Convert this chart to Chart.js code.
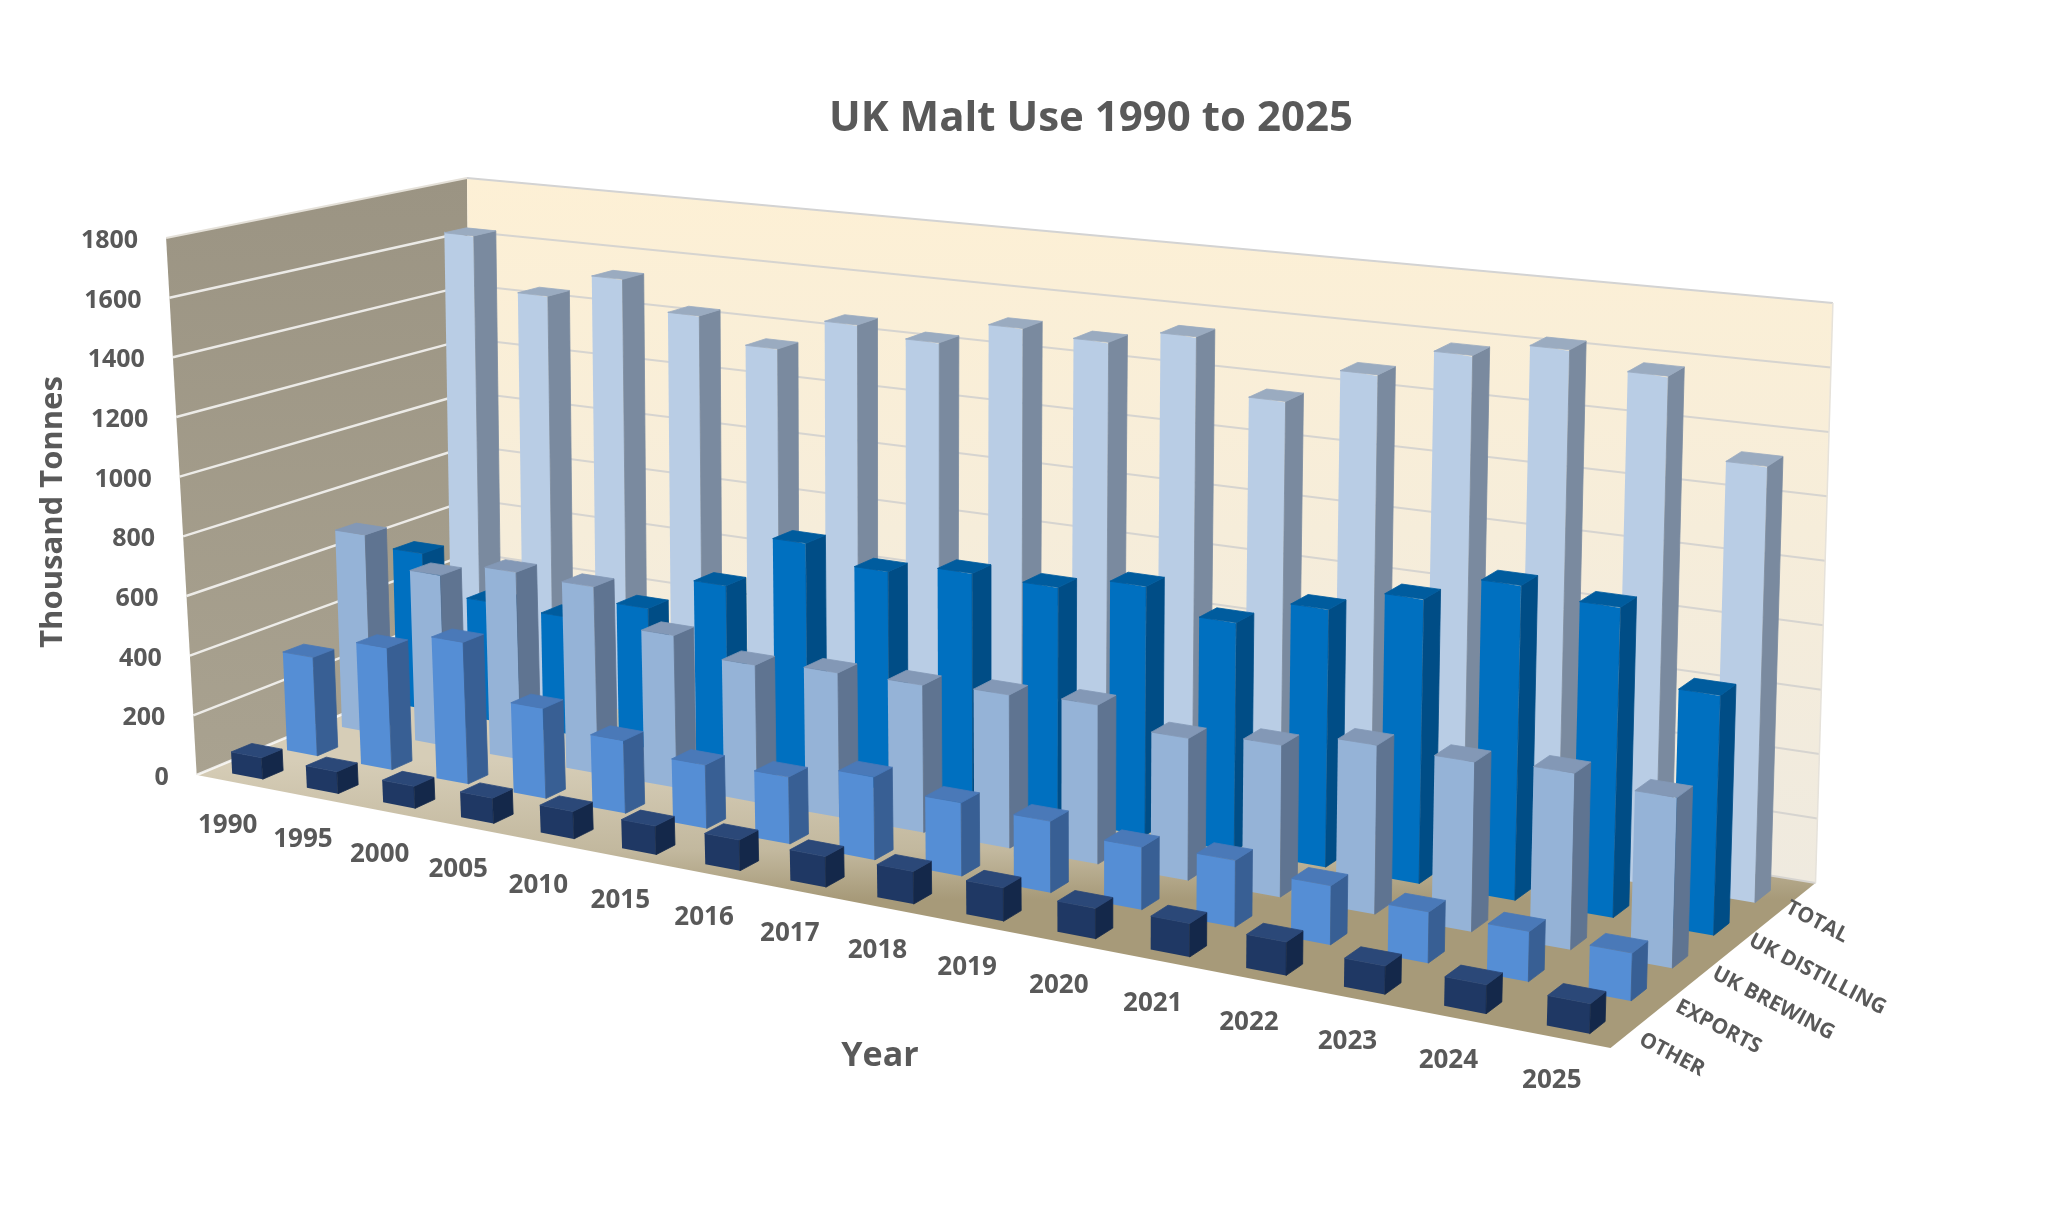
<!DOCTYPE html>
<html lang="en">
<head>
<meta charset="UTF-8">
<title>UK Malt Use 1990 to 2025</title>
<script src="https://cdn.jsdelivr.net/npm/chart.js"></script>
<style>
  body { margin: 0; background: #fff; }
  #malt { display: block; }
</style>
</head>
<body>
<canvas id="malt" width="2048" height="1232"></canvas>
<script>
// values, thousand tonnes
const years = ['1990', '1995', '2000', '2005', '2010', '2015', '2016', '2017',
               '2018', '2019', '2020', '2021', '2022', '2023', '2024', '2025'];
const otherUse     = [72, 73, 73, 83, 89, 92, 98, 97, 102, 104, 94, 102, 101, 85, 86, 88];
const exportsUse   = [337, 413, 476, 300, 240, 208, 217, 266, 233, 225, 195, 206, 181, 155, 151, 142];
const ukBrewing    = [690, 590, 642, 634, 512, 457, 476, 481, 495, 509, 450, 476, 524, 521, 536, 512];
const ukDistilling = [555, 420, 410, 485, 605, 790, 735, 770, 765, 810, 735, 820, 895, 980, 955, 730];
const totalUse     = [1640, 1450, 1540, 1440, 1355, 1470, 1440, 1520, 1505, 1555, 1375, 1495, 1590, 1640, 1590, 1345];
const seriesNames  = ['OTHER', 'EXPORTS', 'UK BREWING', 'UK DISTILLING', 'TOTAL'];
const seriesData   = [otherUse, exportsUse, ukBrewing, ukDistilling, totalUse];
const yRange = { min: 0, max: 1800, step: 200 };

// colours of the three visible faces of each box, front row first
const faces = [
  { front: '#1f3864', side: '#14284a', top: '#2b4878' },
  { front: '#558ed5', side: '#385f94', top: '#4a79b8' },
  { front: '#95b3d7', side: '#5f7491', top: '#8398b6' },
  { front: '#0070c0', side: '#004d86', top: '#005c9e' },
  { front: '#b9cde5', side: '#7a8a9f', top: '#9aabc0' }
];

// the perspective box: floor line ends for depth t (0 front .. 1 back wall),
// height of the full value range and lean of the verticals at the corners
const frame = {
  xl: [196.7, 275.6], xr: [1610.5, 205],
  yl: [775, -115],    yr: [1048, -165],
  hLF: 537, hLB: 482, hRF: 620, hRB: 580,
  leanLF: -0.057, leanLB: -0.011, leanRF: 0.03, leanRB: 0.03,
  warp: 1.2
};
const rows = { front: [0.05, 0.25, 0.45, 0.65, 0.85], depth: 0.075 };
const ink = '#595959';
const bold = (size) => `bold ${size}px 'Open Sans', sans-serif`;

const lerp = (p, q, s) => p + (q - p) * s;

// chart-space point (X from the category scale, Y from the value scale) at depth t -> screen
function project(chart, X, t, Y) {
  const a = chart.chartArea;
  const u = (X - a.left) / (a.right - a.left);
  const v = (a.bottom - Y) / (a.bottom - a.top);
  const g = u / (u + frame.warp * (1 - u));
  const xL = frame.xl[0] + frame.xl[1] * t, xR = frame.xr[0] + frame.xr[1] * t;
  const yL = frame.yl[0] + frame.yl[1] * t, yR = frame.yr[0] + frame.yr[1] * t;
  const h = lerp(lerp(frame.hLF, frame.hLB, t), lerp(frame.hRF, frame.hRB, t), g);
  const lean = lerp(lerp(frame.leanLF, frame.leanLB, t), lerp(frame.leanRF, frame.leanRB, t), g);
  return { x: lerp(xL, xR, g) + lean * h * v, y: lerp(yL, yR, g) - h * v };
}

function poly(ctx, pts, fill, stroke, lw) {
  ctx.beginPath();
  pts.forEach((p, i) => i ? ctx.lineTo(p.x, p.y) : ctx.moveTo(p.x, p.y));
  ctx.closePath();
  if (fill) { ctx.fillStyle = fill; ctx.fill(); }
  if (stroke) { ctx.strokeStyle = stroke; ctx.lineWidth = lw || 1; ctx.stroke(); }
}

function line(ctx, p, q, color, lw) {
  ctx.beginPath();
  ctx.moveTo(p.x, p.y);
  ctx.lineTo(q.x, q.y);
  ctx.strokeStyle = color;
  ctx.lineWidth = lw;
  ctx.stroke();
}

function tickValues(chart) {
  const ticks = chart.scales.y.ticks;
  if (ticks && ticks.length) return ticks.map(t => t.value);
  const out = [];
  for (let v = yRange.min; v <= yRange.max; v += yRange.step) out.push(v);
  return out;
}

const malt3d = {
  id: 'malt3d',
  beforeDraw(chart) {
    const ctx = chart.ctx, a = chart.chartArea, ys = chart.scales.y;
    const L = a.left, R = a.right;
    const B = ys.getPixelForValue(yRange.min), T = ys.getPixelForValue(yRange.max);
    const P = (X, t, Y) => project(chart, X, t, Y);
    ctx.save();

    // floor
    const fl = [P(L, 0, B), P(R, 0, B), P(R, 1, B), P(L, 1, B)];
    const fg = ctx.createLinearGradient(0, P((L + R) / 2, 0, B).y, 0, P((L + R) / 2, 1, B).y);
    fg.addColorStop(0, '#a79a79');
    fg.addColorStop(0.35, '#c2b89e');
    fg.addColorStop(1, '#d6cdb7');
    poly(ctx, fl, fg);

    // side wall
    const sw = [P(L, 0, B), P(L, 1, B), P(L, 1, T), P(L, 0, T)];
    const sg = ctx.createLinearGradient(0, P(L, 1, T).y, 0, P(L, 0, B).y);
    sg.addColorStop(0, '#9b9483');
    sg.addColorStop(1, '#a9a290');
    poly(ctx, sw, sg);

    // back wall
    const bw = [P(L, 1, B), P(R, 1, B), P(R, 1, T), P(L, 1, T)];
    const bg = ctx.createLinearGradient(0, P(L, 1, T).y, 0, P(R, 1, B).y);
    bg.addColorStop(0, '#fdf0d5');
    bg.addColorStop(1, '#efeadf');
    poly(ctx, bw, bg);

    // grid lines on both walls
    tickValues(chart).forEach(v => {
      const Y = ys.getPixelForValue(v);
      if (v < yRange.max) {
        line(ctx, P(L, 0, Y), P(L, 1, Y), 'rgba(255,255,255,0.8)', 2.5);
        line(ctx, P(L, 1, Y), P(R, 1, Y), '#d6d4d0', 2);
      }
    });
    line(ctx, P(L, 0, T), P(L, 1, T), '#e4e0d8', 2);
    line(ctx, P(L, 1, T), P(R, 1, T), '#d3d3d3', 2);
    line(ctx, P(R, 1, T), P(R, 1, B), '#e6e2da', 1.5);

    // value labels on the side wall
    ctx.fillStyle = ink;
    ctx.font = bold(25);
    ctx.textAlign = 'right';
    ctx.textBaseline = 'middle';
    tickValues(chart).forEach(v => {
      const p = P(L, 0, ys.getPixelForValue(v));
      ctx.fillText(String(v), p.x - 28, p.y + 3);
    });
    ctx.restore();
  },

  beforeDatasetsDraw(chart) {
    const ctx = chart.ctx;
    for (let k = chart.data.datasets.length - 1; k >= 0; k--) {
      const meta = chart.getDatasetMeta(k);
      const t0 = rows.front[k], t1 = t0 + rows.depth;
      const look = faces[k];
      meta.data.forEach(bar => {
        const { x, y, base, width } = bar.getProps(['x', 'y', 'base', 'width'], true);
        // front face: let the bar element draw itself through a local perspective transform
        const p0 = project(chart, x, t0, base);
        const px = project(chart, x + 1, t0, base);
        const pu = project(chart, x, t0, base - 1);
        const ax = px.x - p0.x, bx = px.y - p0.y;
        const cy = p0.x - pu.x, dy = p0.y - pu.y;
        ctx.save();
        ctx.transform(ax, bx, cy, dy, p0.x - ax * x - cy * base, p0.y - bx * x - dy * base);
        bar.draw(ctx);
        ctx.restore();

        const xl = x - width / 2, xr = x + width / 2;
        const P = (X, t, Y) => project(chart, X, t, Y);
        poly(ctx, [P(xr, t0, base), P(xr, t1, base), P(xr, t1, y), P(xr, t0, y)], look.side, look.side, 0.8);
        poly(ctx, [P(xl, t0, y), P(xr, t0, y), P(xr, t1, y), P(xl, t1, y)], look.top, look.top, 0.8);
      });
    }
    return false;
  },

  afterDraw(chart) {
    const ctx = chart.ctx, a = chart.chartArea, xs = chart.scales.x, ys = chart.scales.y;
    const B = ys.getPixelForValue(yRange.min);
    ctx.save();
    ctx.fillStyle = ink;

    // year labels along the front edge
    ctx.font = bold(26);
    ctx.textAlign = 'center';
    ctx.textBaseline = 'middle';
    chart.data.labels.forEach((lab, i) => {
      const p = project(chart, xs.getPixelForTick(i), 0, B);
      ctx.fillText(lab, p.x - 6, p.y + 43);
    });

    // series names along the depth axis
    ctx.font = bold(21);
    ctx.textAlign = 'left';
    chart.data.datasets.forEach((ds, k) => {
      const t = rows.front[k] + rows.depth / 2;
      const p = project(chart, a.right, t, B);
      ctx.save();
      ctx.translate(p.x + 14 - 22 * t, p.y + 5);
      ctx.rotate(27.5 * Math.PI / 180);
      ctx.fillText(ds.label, 0, 0);
      ctx.restore();
    });

    // axis titles
    ctx.font = bold(31);
    ctx.textAlign = 'center';
    ctx.save();
    ctx.translate(53, 512);
    ctx.rotate(-Math.PI / 2);
    ctx.fillText('Thousand Tonnes', 0, 0);
    ctx.restore();
    ctx.font = bold(34);
    ctx.fillText('Year', 880, 1056);
    ctx.restore();
  }
};

Chart.defaults.font.family = "'Open Sans', sans-serif";

new Chart(document.getElementById('malt'), {
  type: 'bar',
  data: {
    labels: years,
    datasets: seriesNames.map((name, k) => ({
      label: name,
      data: seriesData[k],
      backgroundColor: faces[k].front,
      borderWidth: 0,
      grouped: false,
      barPercentage: 0.41,
      categoryPercentage: 1
    }))
  },
  options: {
    responsive: false,
    animation: false,
    devicePixelRatio: 1,
    layout: { padding: { left: 134 } },
    scales: {
      x: { display: false },
      y: { display: false, min: yRange.min, max: yRange.max, ticks: { stepSize: yRange.step } }
    },
    plugins: {
      legend: { display: false },
      tooltip: { enabled: false },
      title: {
        display: true,
        text: 'UK Malt Use 1990 to 2025',
        color: ink,
        font: { size: 42, weight: 'bold' },
        padding: { top: 94, bottom: 10 }
      }
    }
  },
  plugins: [malt3d]
});
</script>
</body>
</html>
